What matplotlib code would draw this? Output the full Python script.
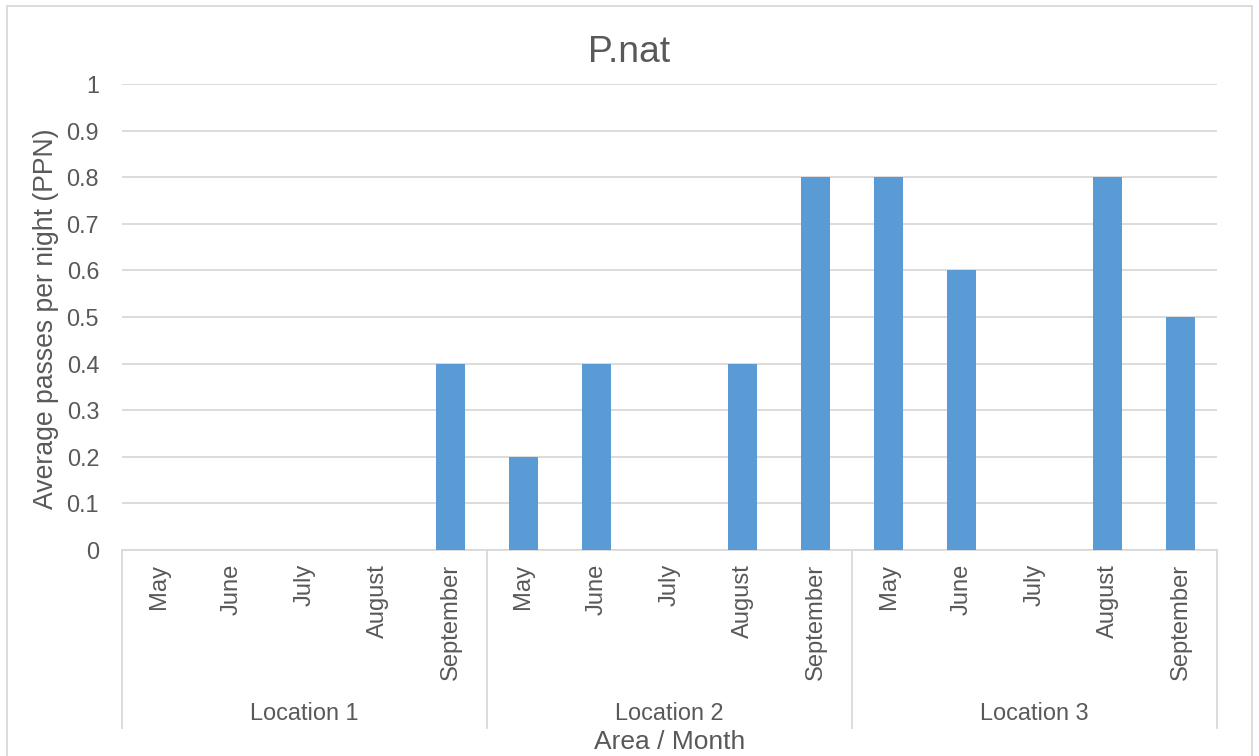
import matplotlib
matplotlib.use("Agg")
import matplotlib.pyplot as plt
from matplotlib.transforms import blended_transform_factory
from matplotlib.patches import Rectangle

# Data
locations = ["Location 1", "Location 2", "Location 3"]
months = ["May", "June", "July", "August", "September"]
loc1_ppn = [0, 0, 0, 0, 0.4]
loc2_ppn = [0.2, 0.4, 0, 0.4, 0.8]
loc3_ppn = [0.8, 0.6, 0, 0.8, 0.5]
y_ticks = [0, 0.1, 0.2, 0.3, 0.4, 0.5, 0.6, 0.7, 0.8, 0.9, 1]
y_tick_labels = ["0", "0.1", "0.2", "0.3", "0.4", "0.5", "0.6", "0.7", "0.8", "0.9", "1"]

values = loc1_ppn + loc2_ppn + loc3_ppn
labels = months * len(locations)
n = len(values)
x = list(range(n))

TEXT = "#595959"
GRID = "#d9d9d9"
BAR = "#5b9bd5"

plt.rcParams["font.family"] = ["Liberation Sans", "DejaVu Sans"]

W, H = 1259, 756
fig = plt.figure(figsize=(W / 100, H / 100), dpi=100)
left, right, top, bottom = 122, 1217, 84, 550
ax = fig.add_axes([left / W, 1 - bottom / H, (right - left) / W, (bottom - top) / H])

# Chart border
fig.patches.append(Rectangle((7 / W, -0.05), (1252 - 7) / W, 1.05 - 6 / H,
                             transform=fig.transFigure, fill=False,
                             edgecolor=GRID, linewidth=1.3))

ax.bar(x, values, width=0.4, color=BAR, zorder=3)

ax.set_xlim(-0.5, n - 0.5)
ax.set_ylim(0, 1)
ax.set_yticks(y_ticks)
ax.set_yticklabels(y_tick_labels)
ax.yaxis.grid(True, color=GRID, linewidth=1.3, zorder=0)
ax.set_axisbelow(True)

for s in ["top", "right", "left"]:
    ax.spines[s].set_visible(False)
ax.spines["bottom"].set_color(GRID)
ax.spines["bottom"].set_linewidth(1.3)

ax.set_xticks(x)
ax.set_xticklabels(labels, rotation=90, va="top", ha="center")
ax.tick_params(axis="x", length=0, pad=10, labelsize=17.1, labelcolor=TEXT)
ax.tick_params(axis="y", length=0, pad=16.5, labelsize=16.8, labelcolor=TEXT)

# Group separators and group labels on the category axis
ax_h = bottom - top
sep_depth = (728 - bottom) / ax_h
trans = blended_transform_factory(ax.transData, ax.transAxes)
for g in range(len(locations) + 1):
    xs = g * len(months) - 0.5
    ax.plot([xs, xs], [0, -sep_depth], transform=trans, color=GRID,
            linewidth=1.3, clip_on=False)
for g, name in enumerate(locations):
    xc = g * len(months) + (len(months) - 1) / 2
    ax.text(xc, -(713 - bottom) / ax_h, name, transform=trans, ha="center",
            va="center", fontsize=16.9, color=TEXT)

ax.text(0.5, -(742 - bottom) / ax_h, "Area / Month", transform=ax.transAxes,
        ha="center", va="center", fontsize=19, color=TEXT)
fig.text(46 / W, 1 - 319 / H, "Average passes per night (PPN)", rotation=90,
         ha="center", va="center", fontsize=19.2, color=TEXT)
fig.text(629 / W, 1 - 52 / H, "P.nat", ha="center", va="center",
         fontsize=26.8, color=TEXT)

fig.savefig("out.png", dpi=100)
